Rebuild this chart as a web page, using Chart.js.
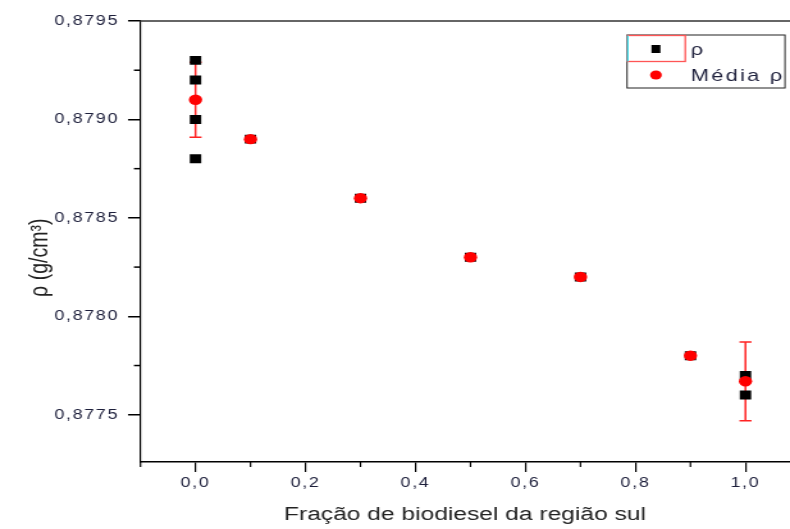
<!DOCTYPE html>
<html>
<head>
<meta charset="utf-8">
<script src="https://cdn.jsdelivr.net/npm/chart.js@4/dist/chart.umd.min.js"></script>
<style>
  html, body { margin: 0; padding: 0; background: #fff; overflow: hidden; }
  /* the source picture is stretched sideways, so draw narrow and widen */
  .wrap { width: 617px; height: 529px; transform: scaleX(1.2804); transform-origin: 0 0; }
</style>
</head>
<body>
<div class="wrap"><canvas id="rhoChart"></canvas></div>
<script>
// measured density, all samples
const rhoX = [0, 0, 0, 0, 0.1, 0.3, 0.5, 0.7, 0.9, 1.0, 1.0];
const rhoY = [0.8793, 0.8792, 0.8790, 0.8788, 0.8789, 0.8786, 0.8783, 0.8782, 0.8778, 0.8777, 0.8776];
// mean density with error
const meanX = [0, 0.1, 0.3, 0.5, 0.7, 0.9, 1.0];
const meanY = [0.8791, 0.8789, 0.8786, 0.8783, 0.8782, 0.8778, 0.87767];
const meanErr = [0.00019, 0, 0, 0, 0, 0, 0.0002];

const seriesLabels = ["ρ", "Média ρ"];
const xTitle = "Fração de biodiesel da região sul";
const yTitle = "ρ (g/cm³)";

const FONT = "'Liberation Sans', Arial, sans-serif";

function toPoints(xs, ys){
  return xs.map((x, i) => ({ x: x, y: ys[i] }));
}

// error bars for the mean series, under the markers
const errorBars = {
  id: "errorBars",
  beforeDatasetsDraw(chart){
    const ctx = chart.ctx;
    const xs = chart.scales.x, ys = chart.scales.y;
    ctx.save();
    ctx.strokeStyle = "#f22";
    ctx.lineWidth = 1.5;
    meanX.forEach((x, i) => {
      if (!meanErr[i]) return;
      const px = xs.getPixelForValue(x);
      const top = ys.getPixelForValue(meanY[i] + meanErr[i]);
      const bot = ys.getPixelForValue(meanY[i] - meanErr[i]);
      ctx.beginPath();
      ctx.moveTo(px, top); ctx.lineTo(px, bot);
      ctx.moveTo(px - 4.7, top); ctx.lineTo(px + 4.7, top);
      ctx.moveTo(px - 4.7, bot); ctx.lineTo(px + 4.7, bot);
      ctx.stroke();
    });
    ctx.restore();
  },
  afterDatasetsDraw(chart){
    // tick labels are drawn after this (ticks.z = 1), spaced out
    chart.ctx.letterSpacing = "1.3px";
  },
  beforeDraw(chart){
    chart.ctx.letterSpacing = "0px";
  }
};

// minor ticks, top frame line and boxed legend
const frame = {
  id: "frame",
  afterDraw(chart){
    const ctx = chart.ctx;
    const a = chart.chartArea;
    const xs = chart.scales.x, ys = chart.scales.y;
    ctx.save();
    ctx.letterSpacing = "0px";
    ctx.strokeStyle = "#000";

    // minor ticks
    ctx.lineWidth = 1.2;
    const xStep = 0.2;
    for (let v = xs.ticks[0].value - xStep / 2; v <= xs.max + 1e-9; v += xStep){
      if (v < xs.min - 1e-9) continue;
      const px = xs.getPixelForValue(v);
      ctx.beginPath(); ctx.moveTo(px, a.bottom); ctx.lineTo(px, a.bottom + 5); ctx.stroke();
    }
    ctx.lineWidth = 1.5;
    const yStep = 0.0005;
    for (let v = ys.ticks[0].value - yStep / 2; v <= ys.max + 1e-9; v += yStep){
      if (v < ys.min - 1e-6) continue;
      const py = ys.getPixelForValue(v);
      ctx.beginPath(); ctx.moveTo(a.left - 4.7, py); ctx.lineTo(a.left, py); ctx.stroke();
    }

    // top frame line
    ctx.strokeStyle = "#333";
    ctx.lineWidth = 1.5;
    ctx.beginPath(); ctx.moveTo(a.left, a.top); ctx.lineTo(a.right, a.top); ctx.stroke();

    // legend box
    const lx = 489.7, ly = 35, lw = 123.4, lh = 53;
    ctx.strokeStyle = "#222";
    ctx.lineWidth = 1;
    ctx.strokeRect(lx, ly, lw, lh);
    ctx.strokeStyle = "#f55";
    ctx.lineWidth = 1.3;
    ctx.strokeRect(lx + 0.5, ly + 0.5, 45, 26);
    ctx.strokeStyle = "#3de4f2";
    ctx.beginPath(); ctx.moveTo(lx + 0.6, ly + 0.5); ctx.lineTo(lx + 0.6, ly + 26.5); ctx.stroke();

    const rows = [49, 75];
    chart.data.datasets.forEach((ds, i) => {
      const sx = 512.3, sy = rows[i];
      ctx.fillStyle = ds.backgroundColor;
      ctx.beginPath();
      if (ds.pointStyle === "rect"){
        ctx.rect(sx - 3.5, sy - 4, 7, 8);
      } else {
        ctx.arc(sx, sy, 4.6, 0, Math.PI * 2);
      }
      ctx.fill();
      ctx.fillStyle = "#1d1f3b";
      ctx.font = "17px " + FONT;
      ctx.letterSpacing = "1.8px";
      ctx.textBaseline = "middle";
      ctx.textAlign = "left";
      ctx.fillText(ds.label, 539.5, sy + 1);
    });
    ctx.restore();
  }
};

new Chart(document.querySelector("#rhoChart"), {
  type: "scatter",
  data: {
    datasets: [
      {
        label: seriesLabels[0],
        data: toPoints(rhoX, rhoY),
        pointStyle: "rect",
        pointRadius: 6.3,
        backgroundColor: "#000",
        borderColor: "#000",
        borderWidth: 0,
        order: 1,
      },
      {
        label: seriesLabels[1],
        data: toPoints(meanX, meanY),
        pointStyle: "circle",
        pointRadius: 5.2,
        backgroundColor: "#ff0000",
        borderColor: "#ff0000",
        borderWidth: 0,
        order: 0,
      },
    ],
  },
  options: {
    responsive: true,
    maintainAspectRatio: false,
    animation: false,
    events: [],
    layout: { autoPadding: false, padding: { top: 21, right: 0, left: 0, bottom: 0 } },
    plugins: {
      legend: { display: false },
      tooltip: { enabled: false },
    },
    scales: {
      x: {
        type: "linear",
        min: -0.101,
        max: 1.081,
        afterFit(scale){
          scale.height = 67;
          scale.paddingLeft = 0;
          scale.paddingRight = 0;
        },
        border: { display: true, color: "#000", width: 1.5 },
        grid: { drawOnChartArea: false, drawTicks: true, tickLength: 10, color: "#000", lineWidth: 1.2 },
        ticks: {
          stepSize: 0.2,
          includeBounds: false,
          autoSkip: false,
          maxRotation: 0,
          padding: 3,
          z: 1,
          color: "#1d1f3b",
          font: { family: FONT, size: 14 },
          callback: (v) => v.toFixed(1).replace(".", ","),
        },
        title: {
          display: true,
          text: xTitle,
          color: "#222",
          font: { family: FONT, size: 19.2 },
          padding: { top: 0, bottom: 2.3 },
        },
      },
      y: {
        type: "linear",
        min: 0.87726,
        max: 0.8795,
        afterFit(scale){ scale.width = 109.3; },
        border: { display: true, color: "#000", width: 1.2 },
        grid: { drawOnChartArea: false, drawTicks: true, tickLength: 9.3, color: "#000", lineWidth: 1.5 },
        ticks: {
          stepSize: 0.0005,
          includeBounds: false,
          autoSkip: false,
          padding: 7,
          z: 1,
          color: "#1d1f3b",
          font: { family: FONT, size: 14 },
          callback: (v) => v.toFixed(4).replace(".", ","),
        },
        title: {
          display: true,
          text: yTitle + "      ",
          color: "#222",
          font: { family: FONT, size: 19.5 },
          padding: { top: 19.5, bottom: 0 },
        },
      },
    },
  },
  plugins: [errorBars, frame],
});
</script>
</body>
</html>
